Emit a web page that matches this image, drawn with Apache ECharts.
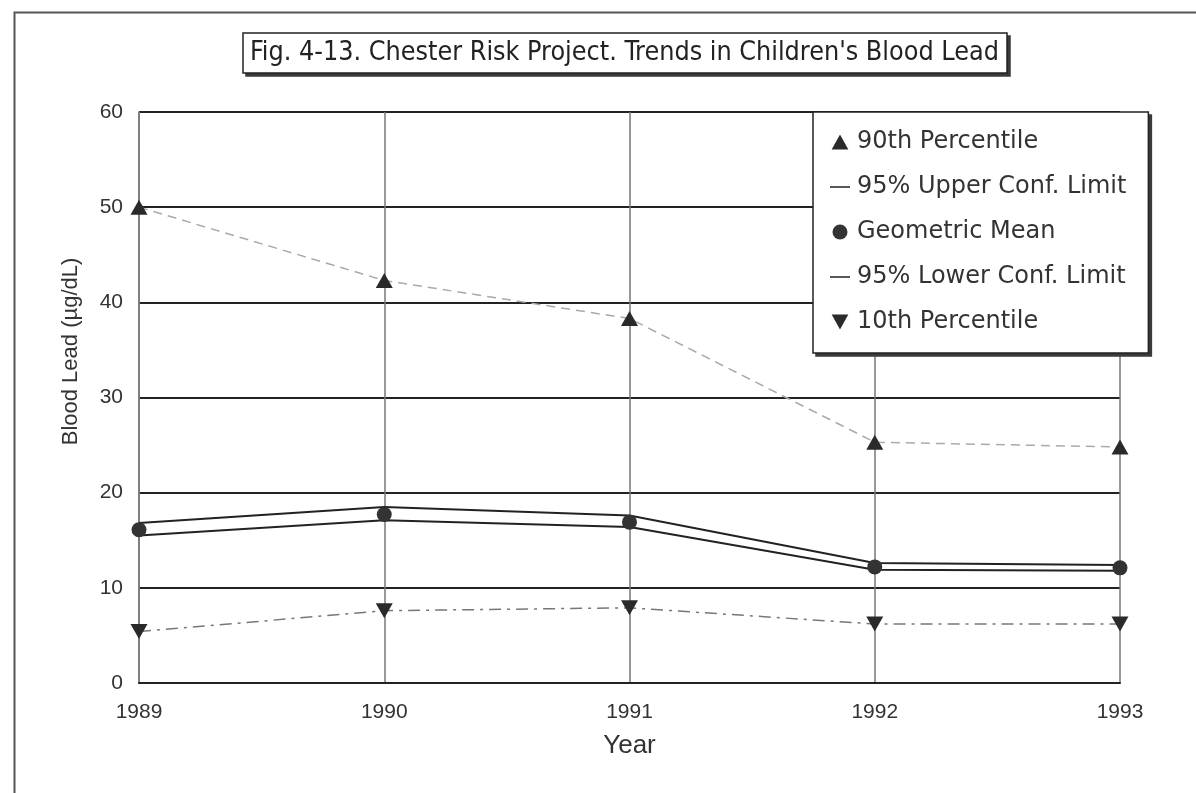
<!DOCTYPE html>
<html>
<head>
<meta charset="utf-8">
<script src="https://cdn.jsdelivr.net/npm/echarts@6/dist/echarts.min.js"></script>
<style>
  html, body { margin: 0; padding: 0; background: #fff; }
  #chart { width: 1196px; height: 793px; }
</style>
</head>
<body>
<div id="chart"></div>
<script>
// 年份（横轴）
const years = ['1989', '1990', '1991', '1992', '1993'];
// 各系列数值（µg/dL）
const p90 = [50.0, 42.3, 38.3, 25.3, 24.8];
const upperLimit = [16.8, 18.5, 17.6, 12.6, 12.4];
const geoMean = [16.1, 17.7, 16.9, 12.2, 12.1];
const lowerLimit = [15.5, 17.1, 16.4, 11.9, 11.8];
const p10 = [5.4, 7.6, 7.9, 6.2, 6.2];

const FONT = '"Liberation Sans", Arial, sans-serif';
const TRI_UP = 'path://M5,0L10,9H0Z';
const TRI_DOWN = 'path://M0,0H10L5,9Z';
const DASH_ICON = 'path://M0,0L0.01,0M2,0H22V1.6H2ZM23.99,0L24,0';

const chart = echarts.init(document.getElementById('chart'));

const option = {
    backgroundColor: '#fff',
    animation: false,
    title: {
        text: "Fig. 4-13. Chester Risk Project. Trends in Children's Blood Lead",
        left: 243,
        top: 33,
        padding: [7, 8, 6, 7],
        borderColor: '#222',
        borderWidth: 1.5,
        backgroundColor: '#fff',
        z: 6,
        textStyle: {
            fontFamily: '"DejaVu Sans Condensed", sans-serif',
            fontSize: 26.7,
            fontWeight: 'normal',
            color: '#222'
        }
    },
    legend: {
        orient: 'vertical',
        left: 813,
        top: 112,
        padding: [18, 22, 19, 15],
        itemWidth: 24,
        itemHeight: 15,
        itemGap: 21,
        backgroundColor: '#fff',
        borderColor: '#222',
        borderWidth: 1.5,
        z: 6,
        itemStyle: { borderWidth: 0 },
        textStyle: { fontFamily: '"DejaVu Sans", sans-serif', fontSize: 24, lineHeight: 24, color: '#333' },
        data: [
            { name: '90th Percentile', icon: TRI_UP },
            { name: '95% Upper Conf. Limit', icon: DASH_ICON },
            { name: 'Geometric Mean', icon: 'circle' },
            { name: '95% Lower Conf. Limit', icon: DASH_ICON },
            { name: '10th Percentile', icon: TRI_DOWN }
        ]
    },
    graphic: [{
        // 外框
        type: 'rect',
        left: 12,
        top: 10,
        shape: { width: 1400, height: 1000 },
        style: { fill: 'none', stroke: '#555', lineWidth: 2 },
        silent: true
    }],
    grid: { left: 139, right: 76, top: 112, bottom: 110 },
    xAxis: {
        type: 'category',
        data: years,
        boundaryGap: false,
        name: 'Year',
        nameLocation: 'middle',
        nameGap: 50,
        nameTextStyle: { fontFamily: FONT, fontSize: 26, color: '#333' },
        axisLine: { lineStyle: { color: '#222', width: 2 } },
        axisTick: { show: false },
        axisLabel: { fontFamily: FONT, fontSize: 21, color: '#333', margin: 19 },
        splitLine: { show: true, lineStyle: { color: '#777', width: 1.5 } }
    },
    yAxis: {
        type: 'value',
        min: 0,
        max: 60,
        interval: 10,
        name: 'Blood Lead (µg/dL)',
        nameLocation: 'middle',
        nameRotate: 90,
        nameGap: 57,
        nameTextStyle: { fontFamily: FONT, fontSize: 22, color: '#333', padding: [0, 0, 0, 92] },
        axisLine: { show: true, lineStyle: { color: '#777', width: 1.5 } },
        axisTick: { show: false },
        axisLabel: { fontFamily: FONT, fontSize: 21, color: '#333', margin: 16 },
        splitLine: { lineStyle: { color: '#222', width: 2 } }
    },
    series: [
        {
            name: '90th Percentile',
            type: 'line',
            data: p90,
            symbol: TRI_UP,
            symbolSize: [17, 15],
            itemStyle: { color: '#2a2a2a' },
            lineStyle: { color: '#aaa', width: 1.5, type: [9, 6] },
            z: 3
        },
        {
            name: '95% Upper Conf. Limit',
            type: 'line',
            data: upperLimit,
            showSymbol: false,
            itemStyle: { color: '#222' },
            lineStyle: { color: '#222', width: 2 },
            z: 2
        },
        {
            name: 'Geometric Mean',
            type: 'line',
            data: geoMean,
            symbol: 'circle',
            symbolSize: 15,
            itemStyle: { color: '#333' },
            lineStyle: { width: 0 },
            z: 4
        },
        {
            name: '95% Lower Conf. Limit',
            type: 'line',
            data: lowerLimit,
            showSymbol: false,
            itemStyle: { color: '#222' },
            lineStyle: { color: '#222', width: 2 },
            z: 2
        },
        {
            name: '10th Percentile',
            type: 'line',
            data: p10,
            symbol: TRI_DOWN,
            symbolSize: [17, 15],
            itemStyle: { color: '#2a2a2a' },
            lineStyle: { color: '#777', width: 1.5, type: [12, 6, 3, 6] },
            z: 3
        }
    ]
};

chart.setOption(option);

// 标题框和图例框的投影（右下方深色阴影）
function addShadows() {
    const shadows = [];
    const legendView = chart._componentsViews.find(v => v.type === 'legend.plain');
    const titleView = chart._componentsViews.find(v => v.type === 'title');
    [titleView, legendView].forEach(view => {
        if (!view) return;
        const r = view.group.getBoundingRect();
        const t = view.group;
        shadows.push({
            type: 'rect',
            x: t.x + r.x + 3,
            y: t.y + r.y + 3,
            shape: { width: r.width, height: r.height },
            style: { fill: '#3a3a3a' },
            z: 5,
            silent: true
        });
    });
    chart.setOption({ graphic: option.graphic.concat(shadows) });
}
addShadows();
</script>
</body>
</html>
